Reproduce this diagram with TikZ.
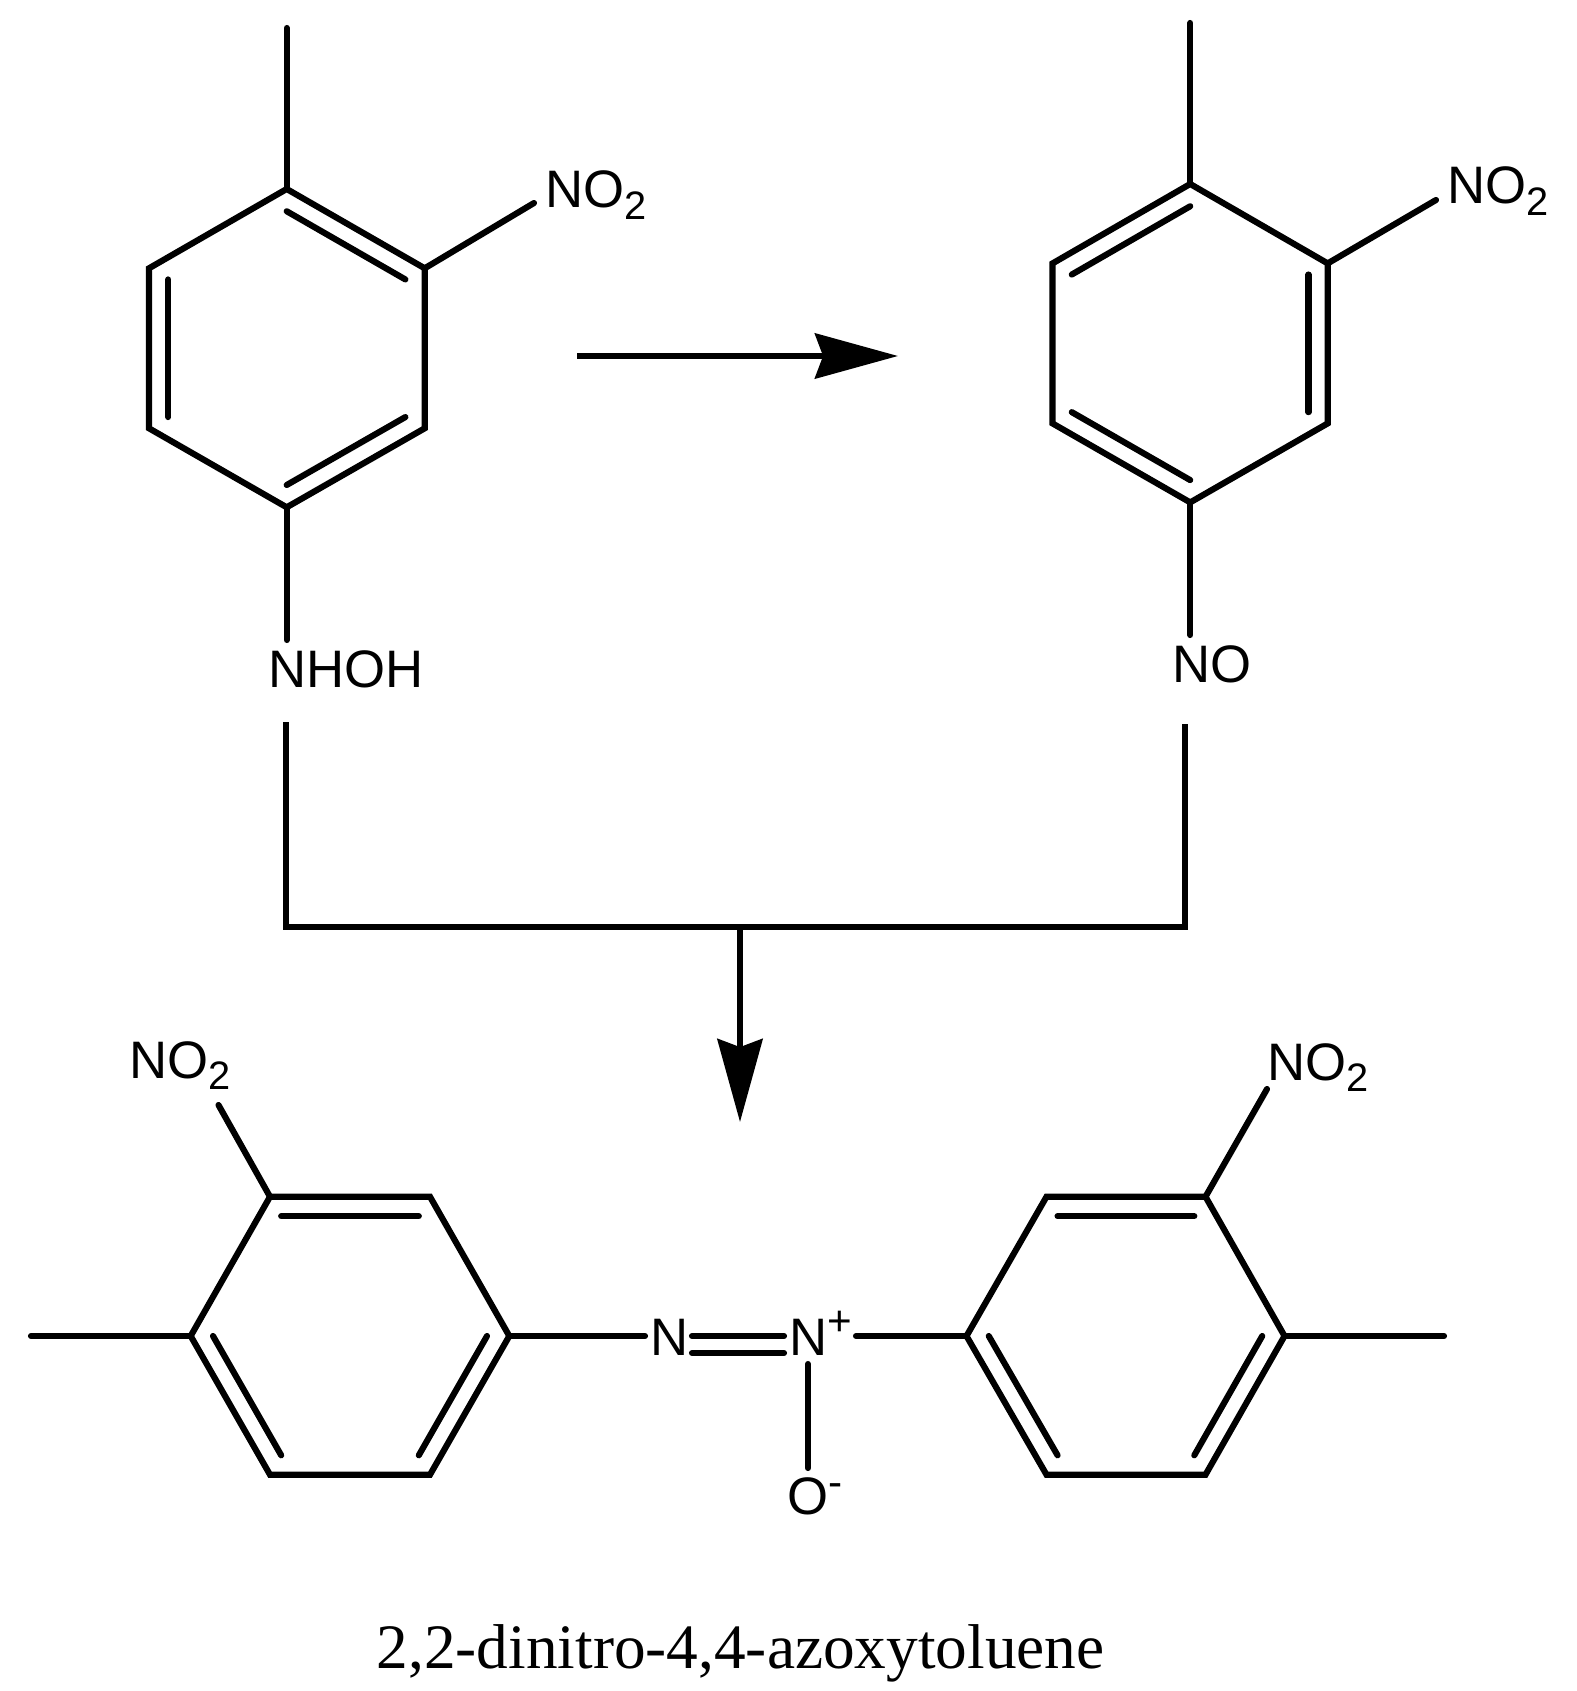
\documentclass[tikz,border=0pt]{standalone}
\usepackage{fontspec}
\setmainfont{Liberation Sans}
\newfontfamily\capfont{Liberation Serif}
\usetikzlibrary{calc,arrows.meta}
\def\innerbond(#1)(#2)(#3){\draw[bond] ($(#1)!0.14!(#3)$) -- ($(#2)!0.14!(#3)$);}
\def\subtwo{\raisebox{-3.2pt}{\fontsize{11.3}{11.3}\selectfont 2}}
\tikzset{
	bond/.style={line width=1.75pt, line cap=round, line join=miter},
	atom/.style={inner sep=0pt, outer sep=0pt, anchor=base west, font=\fontsize{15}{15}\selectfont},
	reaction/.style={line width=1.75pt, -{Stealth[length=23.6pt, width=12.8pt, inset=2.3pt]}}
}

\begin{document}
\begin{tikzpicture}[x=0.01cm, y=-0.01cm]
			%%%%% START %%%%%
			\useasboundingbox (0, 0) rectangle (1577, 1691);
			
			% hydroxylamine
			\coordinate (a1) at (286.7, 189);
			\coordinate (a2) at (424.7, 268.3);
			\coordinate (a3) at (424.7, 428.3);
			\coordinate (a4) at (286.7, 507.3);
			\coordinate (a5) at (149, 428.3);
			\coordinate (a6) at (149, 268.3);
			\coordinate (ac) at (286.7, 348);
			\draw[bond] (a1) -- (a2) -- (a3) -- (a4) -- (a5) -- (a6) -- cycle;
			\innerbond(a1)(a2)(ac)
			\innerbond(a3)(a4)(ac)
			\innerbond(a5)(a6)(ac)
			\coordinate (aMe) at (286.7, 28);
			\coordinate (aNt) at (534, 203);
			\coordinate (aHt) at (286.7, 640);
			\draw[bond] (a1) -- (aMe);
			\draw[bond] (a2) -- (aNt);
			\draw[bond] (a4) -- (aHt);
			\node[atom] (aNO) at (545, 208) {NO\subtwo};
			\node[atom] (aNHOH) at (268, 687) {NHOH};
			
			% nitroso
			\coordinate (b1) at (1190.2, 184);
			\coordinate (b2) at (1327.7, 263.4);
			\coordinate (b3) at (1327.7, 423.4);
			\coordinate (b4) at (1190.2, 502.4);
			\coordinate (b5) at (1052.5, 423.4);
			\coordinate (b6) at (1052.5, 263.4);
			\coordinate (bc) at (1190.2, 343);
			\draw[bond] (b1) -- (b2) -- (b3) -- (b4) -- (b5) -- (b6) -- cycle;
			\innerbond(b1)(b6)(bc)
			\innerbond(b2)(b3)(bc)
			\innerbond(b4)(b5)(bc)
			\coordinate (bMe) at (1190.2, 23);
			\coordinate (bNt) at (1436, 200);
			\coordinate (bOt) at (1190.2, 635);
			\draw[bond] (b1) -- (bMe);
			\draw[bond] (b2) -- (bNt);
			\draw[bond] (b4) -- (bOt);
			\node[atom] (bNO) at (1447, 204) {NO\subtwo};
			\node[atom] (bNOx) at (1172, 682) {NO};
			
			\coordinate (tA) at (286, 722);
			\coordinate (tB) at (286, 927);
			\coordinate (tC) at (1185, 927);
			\coordinate (tD) at (1185, 724);
			\draw[line width=1.75pt, line join=miter] (tA) -- (tB) -- (tC) -- (tD);
			
			\coordinate (rA) at (577, 356);
			\coordinate (rB) at (898, 356);
			\coordinate (rC) at (740, 927);
			\coordinate (rD) at (740, 1122);
			\draw[reaction] (rA) -- (rB);
			\draw[reaction] (rC) -- (rD);
			
			% azoxy product
			\coordinate (c1) at (270, 1196.7);
			\coordinate (c2) at (430, 1196.7);
			\coordinate (c3) at (509.3, 1336);
			\coordinate (c4) at (430, 1474.7);
			\coordinate (c5) at (270, 1474.7);
			\coordinate (c6) at (190.7, 1336);
			\coordinate (cc) at (350, 1336);
			\draw[bond] (c1) -- (c2) -- (c3) -- (c4) -- (c5) -- (c6) -- cycle;
			\innerbond(c1)(c2)(cc)
			\innerbond(c3)(c4)(cc)
			\innerbond(c5)(c6)(cc)
			\coordinate (cMe) at (31, 1336);
			\coordinate (cNt) at (218.5, 1105);
			\draw[bond] (c6) -- (cMe);
			\draw[bond] (c1) -- (cNt);
			\node[atom] (cNO) at (129, 1078) {NO\subtwo};
			
			\coordinate (d1) at (966.5, 1336);
			\coordinate (d2) at (1046.5, 1196.7);
			\coordinate (d3) at (1205.5, 1196.7);
			\coordinate (d4) at (1284.5, 1336);
			\coordinate (d5) at (1205.5, 1474.7);
			\coordinate (d6) at (1046.5, 1474.7);
			\coordinate (dc) at (1125.5, 1336);
			\draw[bond] (d1) -- (d2) -- (d3) -- (d4) -- (d5) -- (d6) -- cycle;
			\innerbond(d2)(d3)(dc)
			\innerbond(d4)(d5)(dc)
			\innerbond(d6)(d1)(dc)
			\coordinate (dMe) at (1444, 1336);
			\coordinate (dNt) at (1267, 1089);
			\draw[bond] (d4) -- (dMe);
			\draw[bond] (d3) -- (dNt);
			\node[atom] (dNO) at (1267, 1080) {NO\subtwo};
			
			\node[atom] (nL) at (650, 1355) {N};
			\node[atom] (nR) at (789, 1355) {N\raisebox{5.6pt}{\fontsize{12}{12}\selectfont +}};
			\node[atom] (oX) at (787, 1514) {O\raisebox{5.1pt}{\fontsize{12}{12}\selectfont -}};
			\coordinate (nA) at (645, 1336);
			\coordinate (nB) at (692, 1336);
			\coordinate (nC) at (784, 1336);
			\coordinate (nD) at (692, 1353);
			\coordinate (nE) at (784, 1353);
			\coordinate (nF) at (856, 1336);
			\coordinate (nG) at (808, 1364);
			\coordinate (nH) at (808, 1468);
			\draw[bond] (c3) -- (nA);
			\draw[bond] (nB) -- (nC);
			\draw[bond] (nD) -- (nE);
			\draw[bond] (nF) -- (d1);
			\draw[bond] (nG) -- (nH);
			
			\node[inner sep=0pt, anchor=base west, font=\capfont\fontsize{18}{18}\selectfont] (name) at (376, 1668) {2,2-dinitro-4,4-azoxytoluene};
			
			%%%%% END %%%%%
		\end{tikzpicture}
\end{document}
